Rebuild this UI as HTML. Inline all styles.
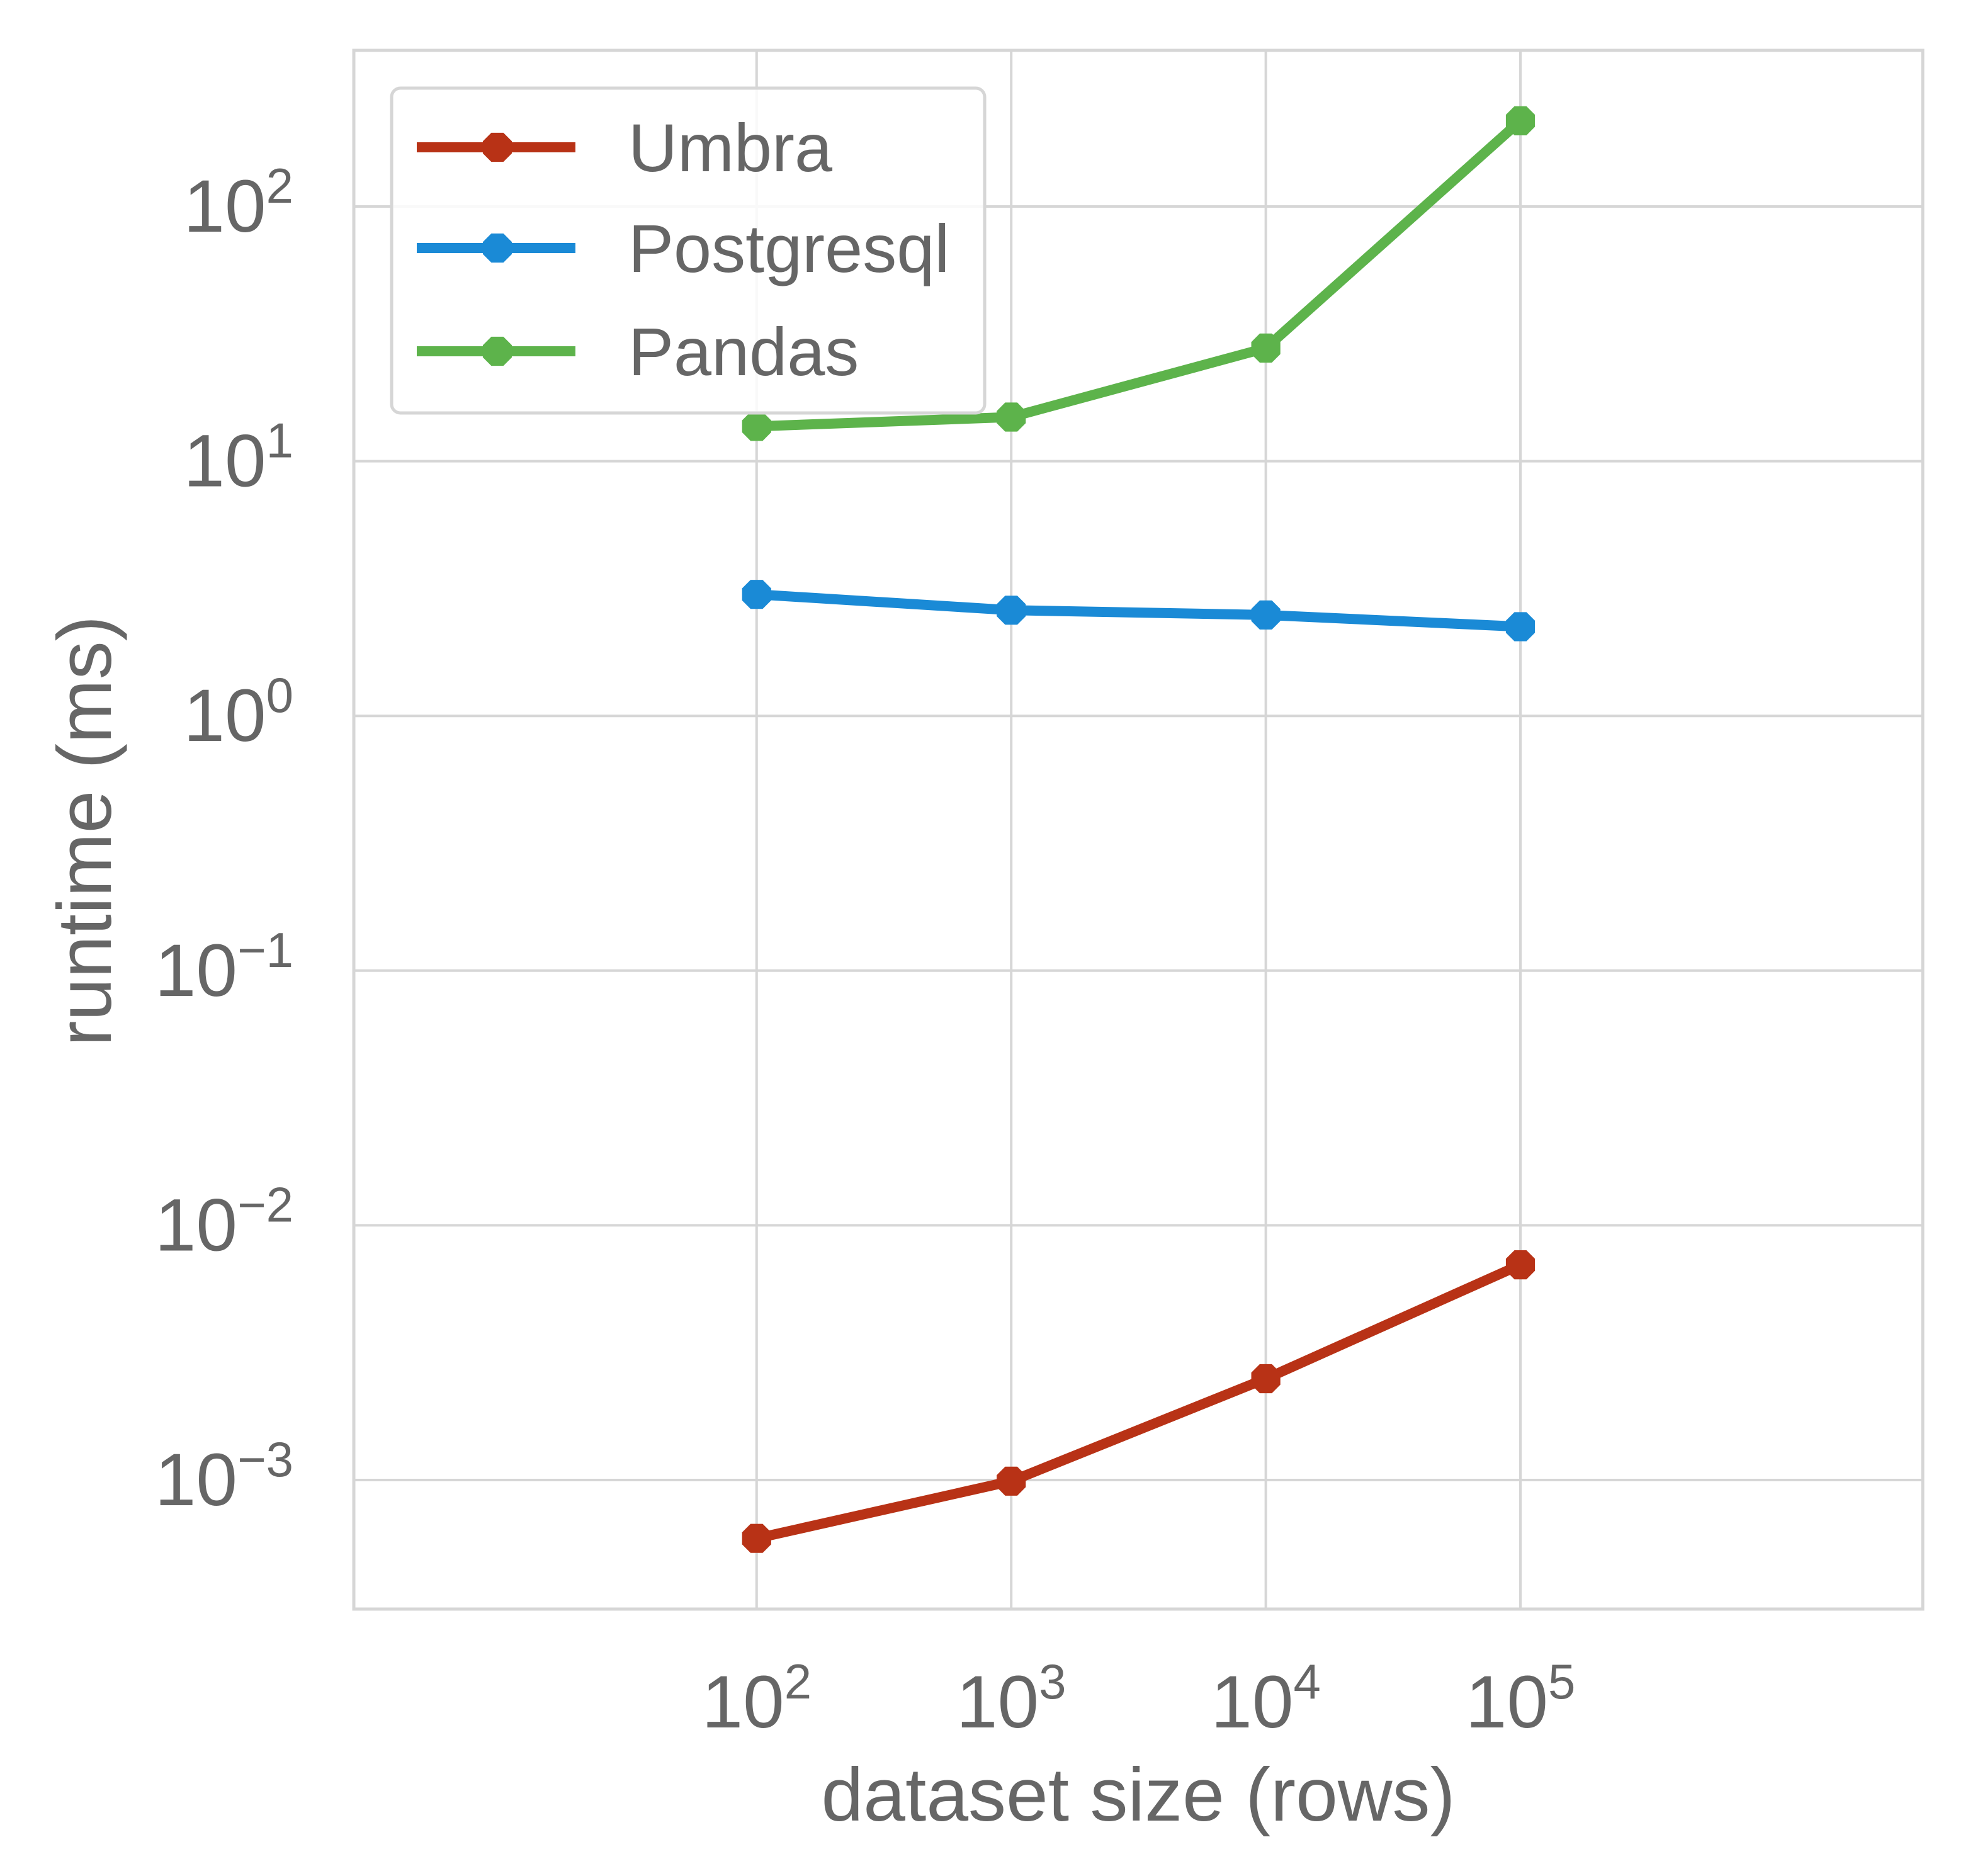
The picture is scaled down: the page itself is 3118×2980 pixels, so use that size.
<!DOCTYPE html>
<html><head><meta charset="utf-8">
<style>
html,body{margin:0;padding:0;background:#fff;}
svg{display:block;}
text{font-family:"Liberation Sans",sans-serif;fill:#666;}
</style></head>
<body>
<svg id="chart" width="3118" height="2980" viewBox="0 0 3118 2980" xmlns="http://www.w3.org/2000/svg"></svg>
<script>
const xValues = [100, 1000, 10000, 100000];
const umbraValues = [0.00059, 0.00099, 0.0025, 0.0070];
const postgresValues = [3.0, 2.6, 2.49, 2.24];
const pandasValues = [13.7, 14.9, 27.8, 217];
const xTickExps = [2, 3, 4, 5];
const yTickExps = [2, 1, 0, -1, -2, -3];
const seriesNames = ["Umbra", "Postgresql", "Pandas"];

const L=562,R=3054,T=80,B=2556;
const xMinL=0.418,xMaxL=6.58;
function sx(v){return L+(Math.log10(v)-xMinL)/(xMaxL-xMinL)*(R-L);}
function sy(v){return 328+(2-Math.log10(v))*404.6;}
const NS="http://www.w3.org/2000/svg";
const svg=document.getElementById('chart');
function mk(tag,attrs,parent){const e=document.createElementNS(NS,tag);for(const k in attrs)e.setAttribute(k,attrs[k]);(parent||svg).appendChild(e);return e;}

const grid=mk('g',{});


xTickExps.forEach(e=>{const x=sx(Math.pow(10,e));
 const l=mk('line',{x1:x,x2:x,y1:T,y2:B,stroke:'#d6d6d6','stroke-width':4},grid);
 
 
 const t=mk('text',{x:x,y:2744,'font-size':118,'text-anchor':'middle'});
 
 
 t.innerHTML='10<tspan dy="-46" font-size="78">'+e+'</tspan>';
});
yTickExps.forEach(e=>{const y=sy(Math.pow(10,e));
 const l=mk('line',{x1:L,x2:R,y1:y,y2:y,stroke:'#d6d6d6','stroke-width':4},grid);
 
 
 const t=mk('text',{x:466,y:y+40,'font-size':118,'text-anchor':'end'});
 
 
 const ex=e<0?'\u2212'+(-e):String(e);
 t.innerHTML='10<tspan dy="-46" font-size="78">'+ex+'</tspan>';
});
const frame=mk('rect',{x:L,y:T,width:R-L,height:B-T,fill:'none',stroke:'#d6d6d6','stroke-width':5});



function octo(cx,cy,r){let p=[];for(let i=0;i<8;i++){const a=Math.PI/8+i*Math.PI/4;p.push((cx+r*Math.cos(a)).toFixed(1)+','+(cy+r*Math.sin(a)).toFixed(1));}return p.join(' ');}
const colors=['#b83216','#1a8ad6','#5db34b'];
const data=[umbraValues,postgresValues,pandasValues];
data.forEach((vals,si)=>{
 const g=mk('g',{});
 
 
 const pts=vals.map((v,i)=>sx(xValues[i])+','+sy(v)).join(' ');
 const pl=mk('polyline',{points:pts,fill:'none',stroke:colors[si],'stroke-width':16,'stroke-linejoin':'round'},g);
 
 
 vals.forEach((v,i)=>{const m=mk('polygon',{points:octo(sx(xValues[i]),sy(v),25),fill:colors[si]},g);
  
  });
});

const leg=mk('g',{});


const lb=mk('rect',{x:622,y:140,width:942,height:516,rx:14,fill:'#fff','fill-opacity':0.85,stroke:'#d6d6d6','stroke-width':5},leg);


[234,394,558].forEach((y,i)=>{
 const e=mk('g',{},leg);
 
 
 mk('line',{x1:662,x2:914,y1:y,y2:y,stroke:colors[i],'stroke-width':16},e);
 mk('polygon',{points:octo(790,y,25),fill:colors[i]},e);
 const t=mk('text',{x:998,y:y+38,'font-size':108},e);
 t.textContent=seriesNames[i];
});

const xt=mk('text',{x:1808,y:2892,'font-size':120,'text-anchor':'middle'});


xt.textContent='dataset size (rows)';
const yt=mk('text',{x:0,y:0,'font-size':122,'text-anchor':'middle',transform:'translate(176,1320) rotate(-90)'});


yt.textContent='runtime (ms)';
</script>
</body></html>
